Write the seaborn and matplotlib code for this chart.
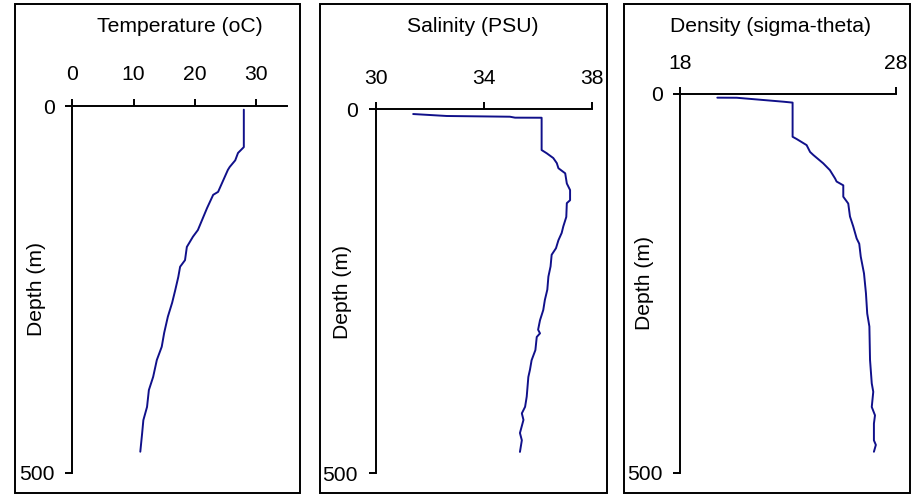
import matplotlib
matplotlib.use("Agg")
import matplotlib.pyplot as plt
from matplotlib.patches import Rectangle
import seaborn as sns
import pandas as pd

# ---------------- data ----------------
temp_depth = [5, 56, 64, 74, 83, 87, 117, 121, 139, 155, 169, 178, 192, 210, 219,
              233, 251, 268, 287, 309, 328, 346, 369, 387, 410, 428, 446, 471]
temperature = [28.0, 28.0, 27.05, 26.6, 25.7, 25.4, 23.8, 23.0, 22.0, 21.2, 20.5,
               19.7, 18.7, 18.4, 17.6, 17.3, 16.8, 16.3, 15.6, 15.0, 14.6, 13.8,
               13.2, 12.5, 12.2, 11.6, 11.4, 11.1]

sal_depth = [6.5, 9.2, 10.2, 11.5, 11.6, 56, 60.5, 67, 74, 81, 88, 102, 111, 125,
             129, 148, 161, 170, 180, 191, 200, 216, 230, 248, 262, 276, 290, 303,
             308, 313, 331, 345, 358, 368, 395, 409, 418, 427, 445, 455, 471]
salinity = [31.39, 32.63, 34.96, 35.15, 36.13, 36.13, 36.32, 36.56, 36.69, 36.75,
            37.0, 37.06, 37.18, 37.18, 37.06, 37.04, 36.93, 36.87, 36.75, 36.66,
            36.5, 36.46, 36.38, 36.34, 36.25, 36.19, 36.07, 36.0, 36.07, 35.95,
            35.9, 35.76, 35.7, 35.64, 35.58, 35.52, 35.4, 35.46, 35.33, 35.4, 35.33]

dens_depth = [5.5, 5.6, 10.8, 12, 57, 60, 68, 77, 81, 92, 101, 112, 116, 121, 136,
              145, 162, 175, 191, 198, 215, 237, 263, 290, 307, 351, 382, 393, 413,
              424, 435, 457, 463, 472]
density = [19.73, 20.63, 22.79, 23.22, 23.22, 23.41, 23.87, 24.03, 24.18, 24.64,
           24.95, 25.19, 25.26, 25.57, 25.57, 25.8, 25.88, 26.03, 26.19, 26.31,
           26.38, 26.53, 26.62, 26.68, 26.78, 26.81, 26.89, 26.96, 26.89, 27.04,
           26.99, 26.99, 27.08, 26.99]

titles = ["Temperature (oC)", "Salinity (PSU)", "Density (sigma-theta)"]
x_ticks = [[0, 10, 20, 30], [30, 34, 38], [18, 28]]
x_limits = [(0, 35), (30, 38), (18, 28)]
y_ticks = [0, 500]
y_label = "Depth (m)"

# ---------------- style ----------------
sns.set_style("white")
plt.rcParams["font.family"] = ["Liberation Sans", "DejaVu Sans"]
plt.rcParams["font.size"] = 15
plt.rcParams["text.color"] = "black"
plt.rcParams["axes.labelcolor"] = "black"
plt.rcParams["xtick.color"] = "black"
plt.rcParams["ytick.color"] = "black"

W, H = 914, 495
fig = plt.figure(figsize=(W / 100, H / 100), dpi=100)

def fx(px):
    return px / W

def fy(py):
    return 1 - py / H

# axes boxes in pixels: left, right, top, bottom
axes_px = [(72.3, 286.7, 106, 473), (375.5, 592.3, 109.3, 473), (680, 895.7, 93.5, 473)]
frames_px = [(15, 300, 4, 493), (319.5, 606.5, 4, 493), (624, 910, 4, 493)]
title_px = [(180, 32), (472.5, 32), (770.5, 32)]
ylabel_px = [(37, 289), (342, 292), (645, 283)]
x_pads = [11, 10, 10]

frames = [
    pd.DataFrame({"value": temperature, "depth": temp_depth}),
    pd.DataFrame({"value": salinity, "depth": sal_depth}),
    pd.DataFrame({"value": density, "depth": dens_depth}),
]

line_color = "#10108a"
FS = 15.2

for i in range(3):
    # frame around panel
    l, r, t, b = frames_px[i]
    fig.patches.append(Rectangle((fx(l), fy(b)), fx(r) - fx(l), fy(t) - fy(b),
                                 transform=fig.transFigure, fill=False,
                                 edgecolor="black", linewidth=1.4))
    l, r, t, b = axes_px[i]
    ax = fig.add_axes([fx(l), fy(b), fx(r) - fx(l), fy(t) - fy(b)])
    sns.lineplot(data=frames[i], x="value", y="depth", sort=False, estimator=None,
                 ax=ax, color=line_color, linewidth=1.4)
    ax.set_xlim(*x_limits[i])
    ax.set_ylim(500, 0)
    ax.set_xticks(x_ticks[i])
    ax.set_yticks(y_ticks)
    ax.xaxis.tick_top()
    ax.set_xlabel("")
    ax.set_ylabel("")
    for s in ["right", "bottom"]:
        ax.spines[s].set_visible(False)
    for s in ["left", "top"]:
        ax.spines[s].set_color("black")
        ax.spines[s].set_linewidth(1.4)
    ax.tick_params(axis="x", which="both", direction="out", length=5, width=1.4,
                   pad=x_pads[i], labelsize=FS, colors="black", top=True, bottom=False)
    ax.tick_params(axis="y", which="both", direction="out", length=5, width=1.4,
                   pad=7.5, labelsize=FS, colors="black", left=True)
    ax.set_facecolor("none")
    ax.grid(False)
    tx, ty = title_px[i]
    fig.text(fx(tx), fy(ty), titles[i], ha="center", va="baseline", fontsize=FS)
    lx, ly = ylabel_px[i]
    fig.text(fx(lx), fy(ly), y_label, ha="center", va="center", rotation=90, fontsize=FS)

fig.savefig("out.png", dpi=100, facecolor="white")
